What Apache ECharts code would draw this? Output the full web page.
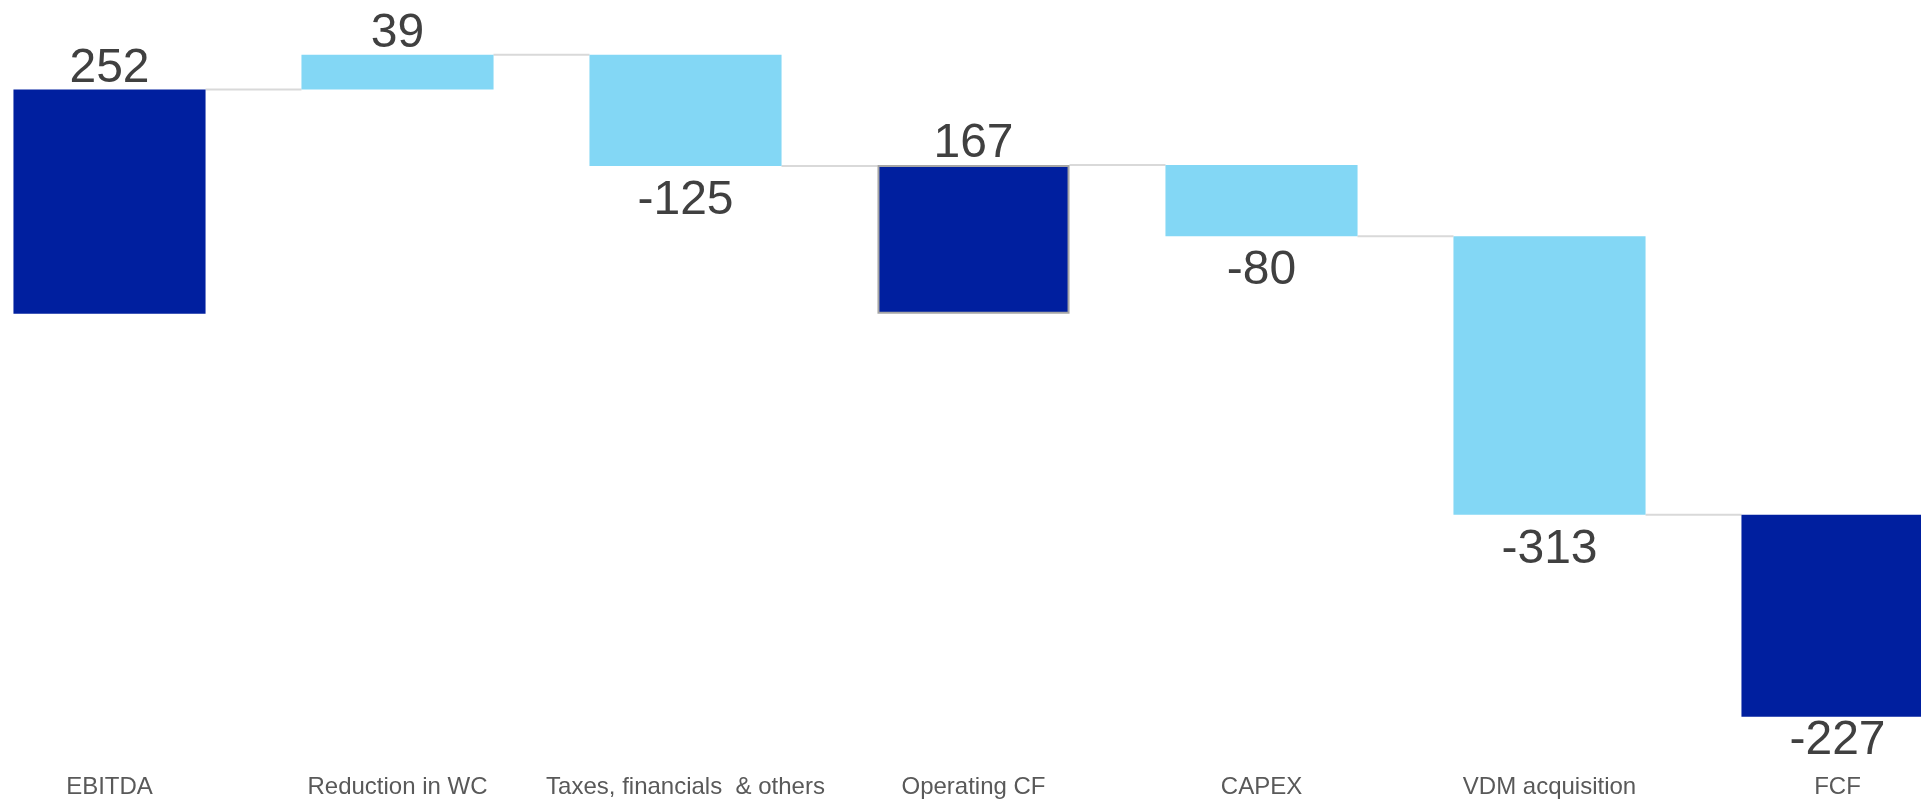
<!DOCTYPE html>
<html>
<head>
<meta charset="utf-8">
<title>Cash flow bridge</title>
<script src="https://cdn.jsdelivr.net/npm/echarts@6/dist/echarts.min.js"></script>
<style>
  html, body { margin: 0; padding: 0; background: #ffffff; }
  #chart { width: 1921px; height: 804px; }
</style>
</head>
<body>
<div id="chart"></div>
<script>
// Cash flow bridge data
const categories = ['EBITDA', 'Reduction in WC', 'Taxes, financials  & others', 'Operating CF', 'CAPEX', 'VDM acquisition', 'FCF'];
const values = [252, 39, -125, 167, -80, -313, -227];
// 'total' bars start at zero, 'change' and 'result' bars continue from the running level
const barTypes = ['total', 'change', 'change', 'total', 'change', 'change', 'result'];

const NAVY = '#001F9F';
const SKY = '#83D7F5';
const FONT = "'Liberation Sans', Arial, sans-serif";

// Work out the floating segments
const bases = [];
const heights = [];
const levels = [];
let running = 0;
values.forEach(function (v, i) {
  const start = barTypes[i] === 'total' ? 0 : running;
  const end = start + v;
  bases.push(Math.min(start, end));
  heights.push(Math.abs(v));
  running = end;
  levels.push(end);
});

// Connector lines between neighbouring bars, at the level the left bar ends on
const connectors = [];
for (let i = 0; i < categories.length - 1; i++) {
  connectors.push([i, levels[i]]);
}

const BAR_FRACTION = 2 / 3;

const chart = echarts.init(document.getElementById('chart'), null, { renderer: 'canvas' });

chart.setOption({
  animation: false,
  backgroundColor: '#ffffff',
  // categories sit on the grid edges; the outer bars spill past the grid
  grid: { left: 109.5, right: 83.5, top: 46.7, bottom: 45.5 },
  xAxis: {
    type: 'category',
    boundaryGap: false,
    data: categories,
    axisLine: { show: false },
    axisTick: { show: false },
    splitLine: { show: false },
    axisLabel: {
      interval: 0,
      margin: 17,
      color: '#595959',
      fontSize: 24,
      fontFamily: FONT
    }
  },
  yAxis: {
    type: 'value',
    min: -500,
    max: 300,
    show: false,
    splitLine: { show: false }
  },
  series: [
    {
      name: 'connector',
      type: 'custom',
      z: 1,
      silent: true,
      clip: false,
      data: connectors,
      renderItem: function (params, api) {
        const p = api.coord([api.value(0), api.value(1)]);
        const band = api.size([1, 0])[0];
        const half = band * BAR_FRACTION / 2;
        return {
          type: 'line',
          shape: { x1: p[0] + half, y1: p[1], x2: p[0] + band - half, y2: p[1] },
          style: { stroke: '#D9D9D9', lineWidth: 2 }
        };
      }
    },
    {
      name: 'base',
      type: 'bar',
      stack: 'bridge',
      stackStrategy: 'all',
      barWidth: '66.7%',
      clip: false,
      silent: true,
      itemStyle: { color: 'transparent' },
      data: bases
    },
    {
      name: 'value',
      type: 'bar',
      stack: 'bridge',
      stackStrategy: 'all',
      barWidth: '66.7%',
      clip: false,
      z: 3,
      data: heights.map(function (h, i) {
        const negative = values[i] < 0;
        const last = i === categories.length - 1;
        return {
          value: h,
          itemStyle: {
            color: barTypes[i] === 'change' ? SKY : NAVY,
            borderColor: i === 3 ? '#A6A6A6' : 'transparent',
            borderWidth: i === 3 ? 2 : 0
          },
          label: {
            show: true,
            position: negative ? 'bottom' : 'top',
            distance: negative ? (last ? 0 : 11) : -3,
            formatter: String(values[i]),
            color: '#404040',
            fontSize: 48,
            fontFamily: FONT
          }
        };
      })
    }
  ]
});
</script>
</body>
</html>
